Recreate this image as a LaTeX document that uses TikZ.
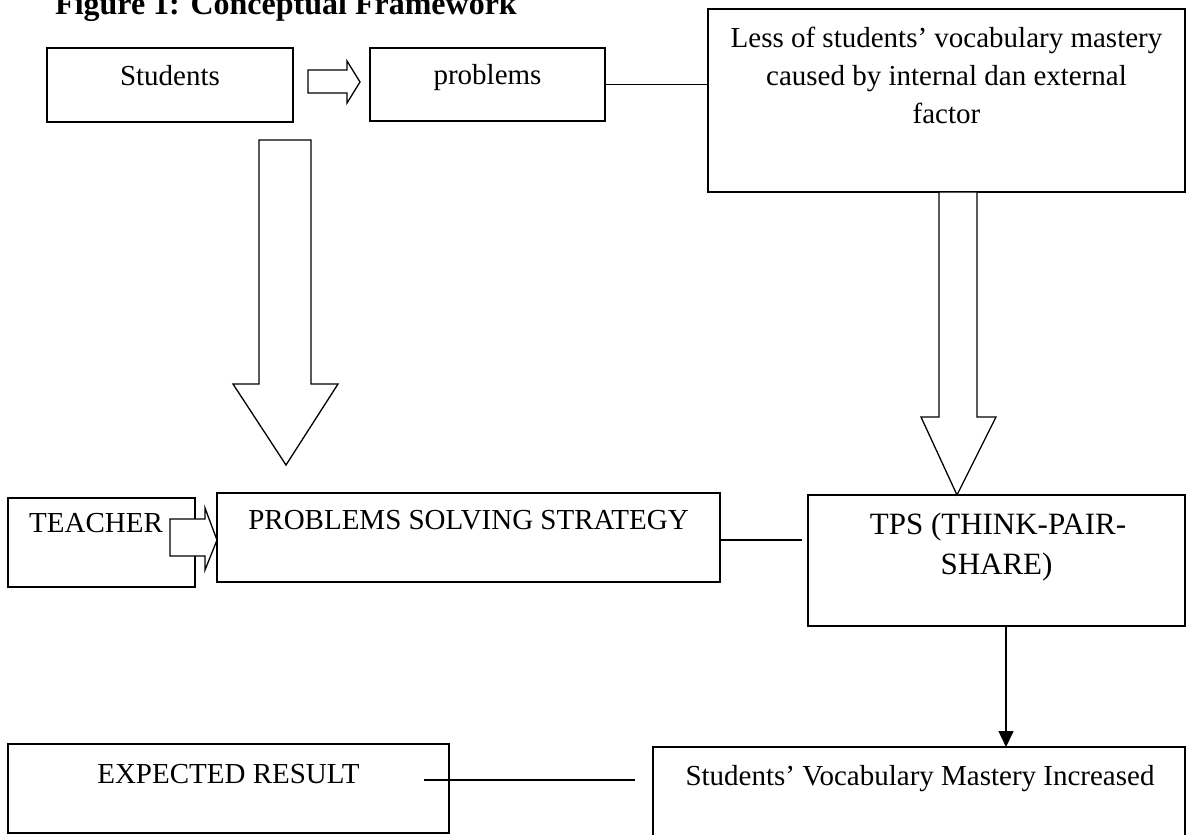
\documentclass[tikz,border=0pt]{standalone}
\usepackage{fontspec}
\setmainfont{Liberation Serif}
\usetikzlibrary{arrows.meta}
\tikzset{
  box/.style={draw, line width=1.5pt, inner sep=0pt, outer sep=0pt},
  txt/.style={inner sep=0pt, anchor=base, font=\fontsize{29}{38}\selectfont},
  bigtxt/.style={inner sep=0pt, anchor=base, font=\fontsize{31}{40}\selectfont},
  blockarrow/.style={draw, line width=1.3pt, fill=white, line join=miter},
  conn/.style={line width=1.5pt},
}
\begin{document}
\begin{tikzpicture}[x=1pt,y=-1pt]
\useasboundingbox (0,0) rectangle (1186,835);
\clip (0,0) rectangle (1186,835);
\fill[white] (0,0) rectangle (1186,835);

% title
\node[inner sep=0pt, anchor=base west, font=\fontsize{32}{38}\selectfont\bfseries] (title) at (55,14) {Figure 1: Conceptual Framework};

% boxes
\node[box, minimum width=246pt, minimum height=74pt] (students) at (170,85) {};
\node[box, minimum width=235pt, minimum height=73pt] (problems) at (487.5,84.5) {};
\node[box, minimum width=477pt, minimum height=183pt] (less) at (946.5,100.5) {};
\node[box, minimum width=187pt, minimum height=89pt] (teacher) at (101.5,542.5) {};
\node[box, minimum width=503pt, minimum height=89pt] (pss) at (468.5,537.5) {};
\node[box, minimum width=377pt, minimum height=131pt] (tps) at (996.5,560.5) {};
\node[box, minimum width=441pt, minimum height=89pt] (expected) at (228.5,788.5) {};
\node[box, minimum width=532pt, minimum height=93pt] (svm) at (919,793.5) {};

% texts
\node[txt] (studentsT) at (170,85) {Students};
\node[txt] (problemsT) at (487.5,84) {problems};
\node[txt] (less1) at (946.5,47) {Less of students’ vocabulary mastery};
\node[txt] (less2) at (946.5,85) {caused by internal dan external};
\node[txt] (less3) at (946.5,123) {factor};
\node[txt] (teacherT) at (96,532) {TEACHER};
\node[txt] (pssT) at (468.5,529) {PROBLEMS SOLVING STRATEGY};
\node[bigtxt] (tps1) at (998,534) {TPS (THINK-PAIR-};
\node[bigtxt] (tps2) at (996.5,574) {SHARE)};
\node[txt] (expectedT) at (228.5,783) {EXPECTED RESULT};
\node[txt] (svmT) at (920,785) {Students’ Vocabulary Mastery Increased};

% block arrows
\draw[blockarrow] (308,70) -- (347,70) -- (347,61) -- (360,82) -- (347,103) -- (347,93) -- (308,93) -- cycle;
\draw[blockarrow] (170,519) -- (205,519) -- (205,508) -- (217,540) -- (205,570) -- (205,556) -- (170,556) -- cycle;
\draw[blockarrow] (259,140) -- (311,140) -- (311,384) -- (338,384) -- (286,465) -- (233,384) -- (259,384) -- cycle;
\draw[blockarrow] (939,192) -- (977,192) -- (977,417) -- (996,417) -- (957,495) -- (921,417) -- (939,417) -- cycle;

% connectors
\coordinate (pssEnd) at (802,540);
\coordinate (expStart) at (424,780);
\coordinate (expEnd) at (635,780);
\coordinate (tpsX) at (1006,0);
\draw[conn] (problems.east) -- (problems.east -| less.west);
\draw[conn] (pss.east |- pssEnd) -- (pssEnd);
\draw[conn] (expStart) -- (expEnd);
\draw[conn, -{Triangle[length=16pt,width=15pt]}] (tps.south -| tpsX) -- (svm.north -| tpsX);
\end{tikzpicture}
\end{document}
